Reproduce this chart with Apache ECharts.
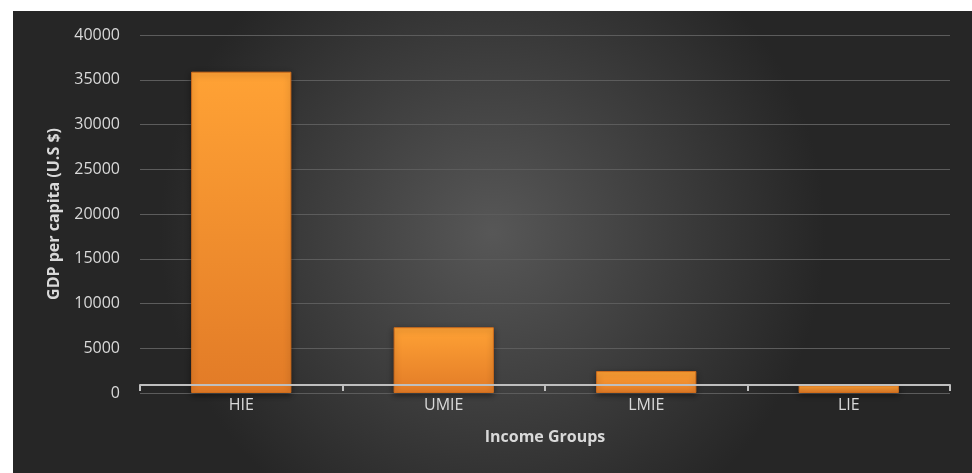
<!DOCTYPE html>
<html>
<head>
<meta charset="utf-8">
<script src="https://cdn.jsdelivr.net/npm/echarts@6/dist/echarts.min.js"></script>
<style>
  html, body { margin: 0; padding: 0; background: #ffffff; }
  #chart { position: absolute; left: 13px; top: 11px; width: 959px; height: 462px; }
</style>
</head>
<body>
<div id="chart"></div>
<script>
// 收入分组与人均 GDP
const groups = ['HIE', 'UMIE', 'LMIE', 'LIE']
const gdpPerCapita = [35900, 7350, 2450, 850]
const yTicks = [0, 5000, 10000, 15000, 20000, 25000, 30000, 35000, 40000]

const textColor = '#d9d9d9'
const fontName = '"Open Sans", "DejaVu Sans", sans-serif'

var myChart = echarts.init(document.getElementById('chart'))

myChart.setOption({
    animation: false,
    backgroundColor: {
        type: 'radial', x: 0.5, y: 0.48, r: 0.72,
        colorStops: [
            { offset: 0, color: '#575757' },
            { offset: 1, color: '#262626' }
        ]
    },
    grid: { left: 127, right: 22, top: 24, bottom: 80 },
    xAxis: {
        type: 'category',
        data: groups,
        offset: -8,
        name: 'Income Groups',
        nameLocation: 'middle',
        nameGap: 44,
        nameTextStyle: { color: textColor, fontFamily: fontName, fontSize: 16, fontWeight: 'bold' },
        axisLine: { lineStyle: { color: '#bfbfbf', width: 2 } },
        axisTick: { show: true, length: 6, lineStyle: { color: '#bfbfbf', width: 2 } },
        axisLabel: { color: textColor, fontFamily: fontName, fontSize: 16, margin: 12 },
        z: 5
    },
    yAxis: {
        type: 'value',
        min: yTicks[0],
        max: yTicks[yTicks.length - 1],
        interval: yTicks[1] - yTicks[0],
        name: 'GDP per capita (U.S $)',
        nameLocation: 'middle',
        nameGap: 78,
        nameTextStyle: { color: textColor, fontFamily: fontName, fontSize: 16, fontWeight: 'bold' },
        axisLine: { show: false },
        axisTick: { show: false },
        axisLabel: {
            color: textColor, fontFamily: fontName, fontSize: 16, margin: 20,
            formatter: function (v) { return String(v) }
        },
        splitLine: { lineStyle: { color: '#5c5c5c', width: 1 } }
    },
    series: [{
        name: 'GDP per capita',
        type: 'bar',
        data: gdpPerCapita,
        barWidth: '49.5%',
        itemStyle: {
            color: {
                type: 'linear', x: 0, y: 0, x2: 0, y2: 1,
                colorStops: [
                    { offset: 0, color: '#ffa235' },
                    { offset: 1, color: '#e27b27' }
                ]
            },
            borderColor: '#d06d1c',
            borderWidth: 1,
            shadowColor: 'rgba(0,0,0,0.45)',
            shadowBlur: 6,
            shadowOffsetY: 2
        }
    }]
})
</script>
</body>
</html>
